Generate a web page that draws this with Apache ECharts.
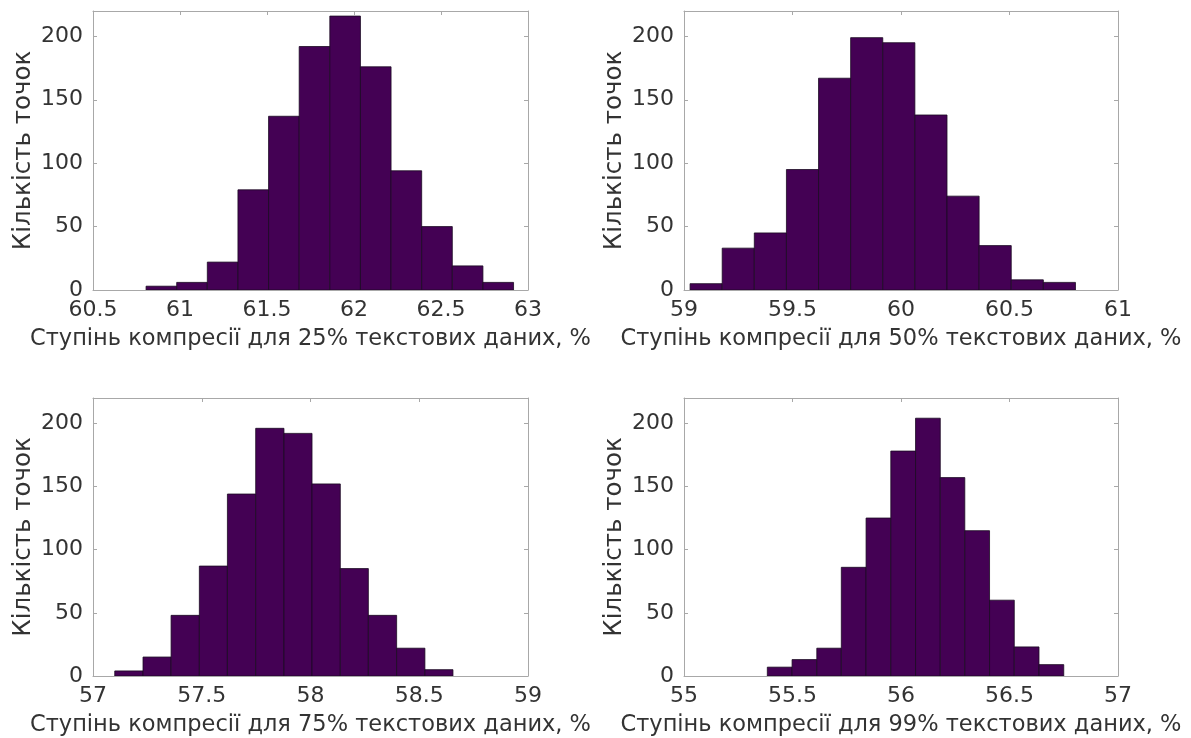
<!DOCTYPE html>
<html><head><meta charset="utf-8">
<script src="https://cdn.jsdelivr.net/npm/echarts@6/dist/echarts.min.js"></script>
<style>html,body{margin:0;padding:0;background:#fff}#c{width:1191px;height:738px}</style>
</head><body><div id="c"></div>
<script>
// Bin edges (13 per panel) and counts (12 per panel)
const edges25 = [60.805, 60.981, 61.157, 61.333, 61.509, 61.685, 61.861, 62.037, 62.213, 62.389, 62.565, 62.741, 62.917];
const counts25 = [3, 6, 22, 79, 137, 192, 216, 176, 94, 50, 19, 6];
const edges50 = [59.028, 59.176, 59.324, 59.472, 59.620, 59.768, 59.916, 60.064, 60.212, 60.360, 60.508, 60.656, 60.804];
const counts50 = [5, 33, 45, 95, 167, 199, 195, 138, 74, 35, 8, 6];
const edges75 = [57.100, 57.230, 57.359, 57.489, 57.618, 57.748, 57.878, 58.007, 58.137, 58.266, 58.396, 58.526, 58.655];
const counts75 = [4, 15, 48, 87, 144, 196, 192, 152, 85, 48, 22, 5];
const edges99 = [55.384, 55.498, 55.612, 55.725, 55.839, 55.953, 56.067, 56.181, 56.294, 56.408, 56.522, 56.636, 56.750];
const counts99 = [7, 13, 22, 86, 125, 178, 204, 157, 115, 60, 23, 9];

const xRanges = [[60.5, 63], [59, 61], [57, 59], [55, 57]];
const xInterval = 0.5;
const yMin = 0, yMax = 220, yInterval = 50;
const xNames = [
  'Ступінь компресії для 25% текстових даних, %',
  'Ступінь компресії для 50% текстових даних, %',
  'Ступінь компресії для 75% текстових даних, %',
  'Ступінь компресії для 99% текстових даних, %'
];
const yName = 'Кількість точок';

const panels = [[edges25, counts25], [edges50, counts50], [edges75, counts75], [edges99, counts99]];
const grids = [
  {left: 93, top: 11, width: 435, height: 279},
  {left: 684, top: 11, width: 434, height: 279},
  {left: 93, top: 398, width: 435, height: 279},
  {left: 684, top: 398, width: 434, height: 279}
];

const FONT = 'DejaVu Sans';
const TXT = '#333333';
const BOX = '#a8a8a8';
const TICK_FS = 22;
const NAME_FS = 22.5;
const YNAME_FS = 24.5;

const xAxis = [], yAxis = [], series = [];
panels.forEach((p, i) => {
  const [mn, mx] = xRanges[i];
  xAxis.push({
    type: 'value', gridIndex: i, min: mn, max: mx, interval: xInterval, position: 'bottom',
    name: xNames[i], nameLocation: 'middle', nameGap: 38,
    nameTextStyle: {fontFamily: FONT, fontSize: NAME_FS, color: TXT},
    axisLine: {show: true, onZero: false, lineStyle: {color: BOX, width: 1}},
    axisTick: {show: true, inside: true, length: 4, lineStyle: {color: BOX}},
    axisLabel: {fontFamily: FONT, fontSize: TICK_FS, color: TXT, margin: 9},
    splitLine: {show: false}
  });
  xAxis.push({
    type: 'value', gridIndex: i, min: mn, max: mx, interval: xInterval, position: 'top',
    axisLine: {show: true, onZero: false, lineStyle: {color: BOX, width: 1}},
    axisTick: {show: true, inside: true, length: 4, lineStyle: {color: BOX}},
    axisLabel: {show: false}, splitLine: {show: false}
  });
  yAxis.push({
    type: 'value', gridIndex: i, min: yMin, max: yMax, interval: yInterval, position: 'left',
    name: yName, nameLocation: 'middle', nameGap: 57,
    nameTextStyle: {fontFamily: FONT, fontSize: YNAME_FS, color: TXT},
    axisLine: {show: true, onZero: false, lineStyle: {color: BOX, width: 1}},
    axisTick: {show: true, inside: true, length: 4, lineStyle: {color: BOX}},
    axisLabel: {fontFamily: FONT, fontSize: TICK_FS, color: TXT, margin: 10,
      showMaxLabel: false},
    splitLine: {show: false}
  });
  yAxis.push({
    type: 'value', gridIndex: i, min: yMin, max: yMax, interval: yInterval, position: 'right',
    axisLine: {show: true, onZero: false, lineStyle: {color: BOX, width: 1}},
    axisTick: {show: true, inside: true, length: 4, lineStyle: {color: BOX}},
    axisLabel: {show: false}, splitLine: {show: false}
  });
  const [edges, counts] = p;
  const data = counts.map((c, k) => [edges[k], edges[k + 1], c]);
  series.push({
    type: 'custom', xAxisIndex: 2 * i, yAxisIndex: 2 * i,
    encode: {x: [0, 1], y: 2},
    data: data,
    clip: true,
    renderItem: function (params, api) {
      const a = api.coord([api.value(0), 0]);
      const b = api.coord([api.value(1), api.value(2)]);
      return {
        type: 'rect',
        shape: {x: a[0], y: b[1], width: b[0] - a[0], height: a[1] - b[1]},
        style: {fill: '#440154', stroke: '#1b0a22', lineWidth: 0.8}
      };
    }
  });
});

const chart = echarts.init(document.getElementById('c'), null, {renderer: 'canvas'});
chart.setOption({
  animation: false,
  backgroundColor: '#fff',
  grid: grids.map(g => Object.assign({containLabel: false}, g)),
  xAxis: xAxis, yAxis: yAxis, series: series
});
</script>
</body></html>
